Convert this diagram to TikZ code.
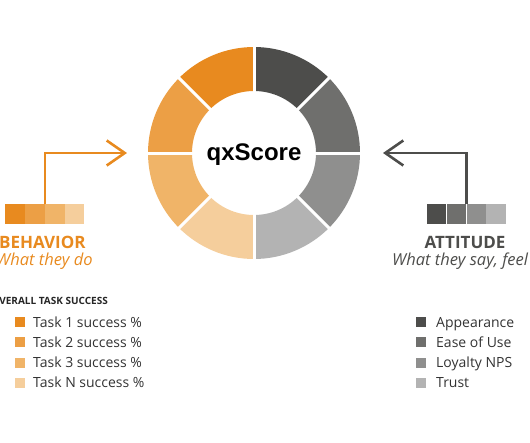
\documentclass[tikz,border=0pt]{standalone}
\usepackage{fontspec}
\setmainfont{Open Sans}
\newfontfamily\scorefont{Liberation Sans}
\usepackage{xcolor}
\usetikzlibrary{arrows.meta,positioning}

\definecolor{or1}{HTML}{E88A1F}
\definecolor{or2}{HTML}{EC9F45}
\definecolor{or3}{HTML}{F0B468}
\definecolor{or4}{HTML}{F5CE9C}
\definecolor{gr1}{HTML}{4D4D4B}
\definecolor{gr2}{HTML}{6F6F6D}
\definecolor{gr3}{HTML}{8F8F8E}
\definecolor{gr4}{HTML}{B3B3B3}
\definecolor{txt}{HTML}{333333}

\begin{document}
\begin{tikzpicture}[
  x=1pt, y=-1pt,
  >={Straight Barb[length=18pt,width=25pt]},
  chip/.style={inner sep=0pt, minimum width=19.5pt, minimum height=20pt},
  key/.style={inner sep=0pt, minimum size=10pt},
  head/.style={font=\fontsize{17}{20}\selectfont\bfseries, inner sep=0pt},
  sub/.style={font=\fontsize{16.5}{20}\selectfont\itshape, inner sep=0pt},
  item/.style={font=\fontsize{14}{17}\selectfont, text=txt, inner sep=0pt, anchor=base west},
  link/.style={->, line width=2.6pt}
]

\useasboundingbox (0,0) rectangle (530,442);

\def\rin{62}
\def\rout{106}

% Ring
\begin{scope}[shift={(254,153)}]
  \foreach \a/\c in {-135/or1, -180/or2, -225/or3, -270/or4,
                     -90/gr1, -45/gr2, 0/gr3, 45/gr4}
    \fill[\c] (\a:\rout) arc[start angle=\a, end angle=\a+45, radius=\rout]
      -- (\a+45:\rin) arc[start angle=\a+45, end angle=\a, radius=\rin] -- cycle;
  \foreach \a in {0,45,...,315}
    \draw[white, line width=3pt] (\a:\rin-2) -- (\a:\rout+3);
\end{scope}
\node[font=\scorefont\bfseries\fontsize{24}{28}\selectfont, anchor=base] (score) at (254,160) {qxScore};

% Behavior side
\node[chip, fill=or1, anchor=north west] (b1) at (5,204) {};
\node[chip, fill=or2, right=0pt of b1] (b2) {};
\node[chip, fill=or3, right=0pt of b2] (b3) {};
\node[chip, fill=or4, right=0pt of b3] (b4) {};
\coordinate (btip) at (127,153);
\draw[link, or1] (b2.north east) |- (btip);
\node[head, text=or1, anchor=base west] (behav) at (-1,248) {BEHAVIOR};
\node[sub, text=or1, anchor=base west] (bsub) at (-4,265) {What they do};

% Attitude side
\node[chip, fill=gr1, anchor=north west] (a1) at (426.5,204) {};
\node[chip, fill=gr2, right=0pt of a1] (a2) {};
\node[chip, fill=gr3, right=0pt of a2] (a3) {};
\node[chip, fill=gr4, right=0pt of a3] (a4) {};
\coordinate (atip) at (383,153);
\draw[link, gr1] (a2.north east) |- (atip);
\node[head, text=gr1, anchor=base] (attit) at (465,248) {ATTITUDE};
\node[sub, text=gr1, anchor=base west] (asub) at (392,265) {What they say, feel};

% Legends
\node[font=\fontsize{10}{12}\selectfont\bfseries, text=black!85, inner sep=0pt, anchor=base east] (lhead) at (108,304) {OVERALL TASK SUCCESS};
\foreach \c/\t [count=\i] in {or1/Task 1 success \%, or2/Task 2 success \%,
                              or3/Task 3 success \%, or4/Task N success \%}{
  \node[key, fill=\c] (tk\i) at (20,{322+20.3*(\i-1)}) {};
  \node[item] (tt\i) at (33,{327+20.3*(\i-1)}) {\t};
}
\foreach \c/\t [count=\i] in {gr1/Appearance, gr2/Ease of Use,
                              gr3/Loyalty NPS, gr4/Trust}{
  \node[key, fill=\c] (ak\i) at (421,{322+20.3*(\i-1)}) {};
  \node[item] (at\i) at (436,{327+20.3*(\i-1)}) {\t};
}

\end{tikzpicture}
\end{document}
